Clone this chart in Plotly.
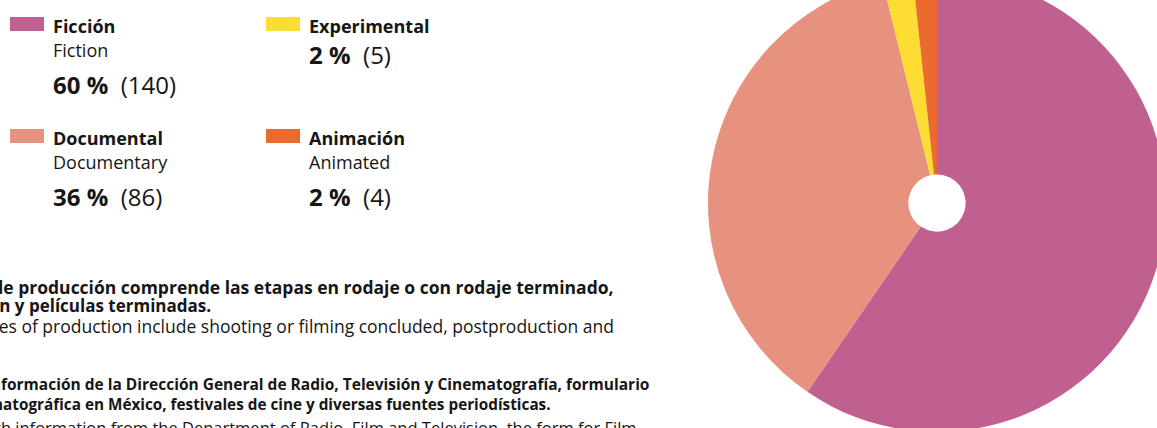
import plotly.graph_objects as go

# the graphic is a crop: the pie runs past the top and right edge of the window,
# so the figure is a bit bigger than the window and shifted up by TOP px
TOP = 26
W, H = 1166, 458

# datos de la gráfica
categorias = ["Ficción", "Documental", "Experimental", "Animación"]
categorias_en = ["Fiction", "Documentary", "", "Animated"]
peliculas = [140, 86, 5, 4]
porcentajes = [60, 36, 2, 2]
colores = ["#C06091", "#E6927E", "#FDDD34", "#EB6A2D"]

nota_es = ["*La etapa de producción comprende las etapas en rodaje o con rodaje terminado,",
           "postproducción y películas terminadas."]
nota_en = ["*Stages of production include shooting or filming concluded, postproduction and"]
fuente_es = ["Fuente: Con información de la Dirección General de Radio, Televisión y Cinematografía, formulario",
             "de producción cinematográfica en México, festivales de cine y diversas fuentes periodísticas."]
fuente_en = ["Source: With information from the Department of Radio, Film and Television, the form for Film"]

FONT = "Open Sans"
INK = "#161616"


def px(x):
    return x / W


def py(y):
    return 1 - (y + TOP) / H


fig = go.Figure()

fig.add_trace(go.Pie(
    labels=categorias,
    values=peliculas,
    marker=dict(colors=colores, line=dict(width=0)),
    hole=0.125,
    sort=False,
    direction="clockwise",
    rotation=0,
    textinfo="none",
    hoverinfo="label+value+percent",
    domain=dict(x=[px(708), 1], y=[0, 1]),
    showlegend=False,
))

shapes = []
annotations = []


def texto(t, x, base, size, bold=False, anchor="left"):
    if bold:
        t = "<b>" + t + "</b>"
    annotations.append(dict(
        text=t, x=px(x), y=py(base - 0.42 * size), xref="paper", yref="paper",
        xanchor=anchor, yanchor="middle", showarrow=False,
        font=dict(family=FONT, size=size, color=INK), borderpad=0))


# bloques de la leyenda: (x del cuadro, y del cuadro)
posiciones = [(10, 17), (10, 129), (266, 17), (266, 129)]
for i, cat in enumerate(categorias):
    sx, sy = posiciones[i]
    shapes.append(dict(type="rect", xref="paper", yref="paper",
                       x0=px(sx), x1=px(sx + 34), y0=py(sy), y1=py(sy + 14),
                       fillcolor=colores[i], line=dict(width=0)))
    tx = sx + 42
    texto(cat, tx, sy + 17, 18, bold=True)
    if categorias_en[i]:
        texto(categorias_en[i], tx, sy + 41, 18)
        base_num = sy + 78
    else:
        base_num = sy + 48
    texto("<b>%d %%</b>  (%d)" % (porcentajes[i], peliculas[i]), tx, base_num, 24)

# notas al pie (alineadas a la derecha, cortadas por el borde izquierdo)
texto(nota_es[0], 615, 294, 17.5, bold=True, anchor="right")
texto(nota_es[1], 212, 313, 17, bold=True, anchor="right")
texto(nota_en[0], 615, 333, 17.5, anchor="right")
texto(fuente_es[0], 650, 391, 15.5, bold=True, anchor="right")
texto(fuente_es[1], 552, 410, 15.3, bold=True, anchor="right")
texto(fuente_en[0], 638, 434, 16.5, anchor="right")

fig.update_layout(
    width=W, height=H,
    margin=dict(l=0, r=0, t=0, b=0),
    paper_bgcolor="white",
    plot_bgcolor="white",
    shapes=shapes,
    annotations=annotations,
    showlegend=False,
)

shift = ("document.documentElement.style.overflow='hidden';"
         "document.body.style.overflow='hidden';"
         "document.body.style.margin='0';"
         "document.getElementById('{plot_id}').style.marginTop='-%dpx';" % TOP)
fig.write_html("out.html", config=dict(displayModeBar=False), post_script=shift)
